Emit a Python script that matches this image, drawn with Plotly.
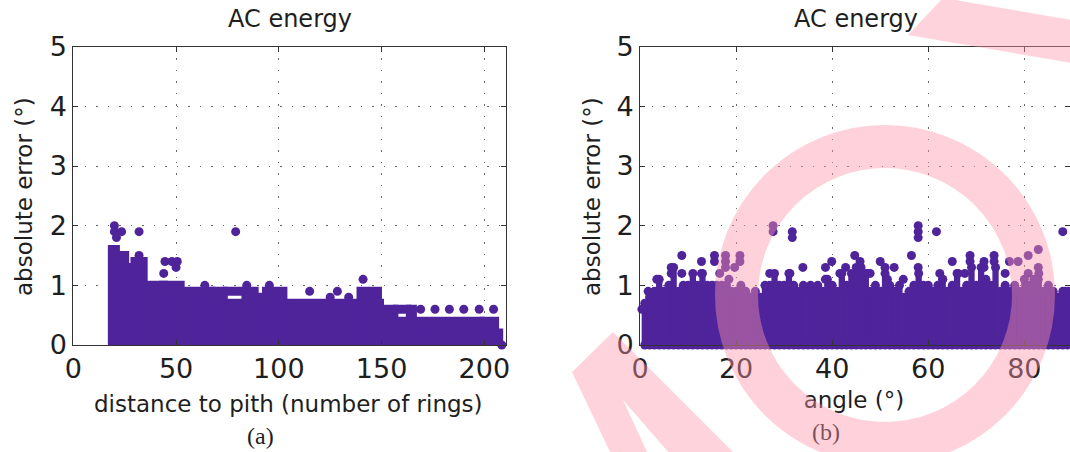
import plotly.graph_objects as go

W, H = 1070, 452
PURPLE = '#4F249B'
TXT = '#1e1e1e'
PINK = 'rgb(255,150,172)'

# ---------------- panel (a): distance to pith ----------------
# solid column blocks of the cloud: start, end (rings) and top error (deg)
dist_seg_start = [19, 20.5, 25, 30, 34, 44, 52, 55, 59, 67, 69, 73, 84, 88, 94, 102, 140, 149, 156, 164, 165, 198, 200, 205]
dist_seg_end   = [20.5, 25, 30, 34, 44, 52, 55, 59, 67, 69, 73, 84, 88, 94, 102, 149, 148, 156, 164, 165, 198, 200, 205, 207]
dist_seg_top   = [1.6, 1.5, 1.3, 1.4, 1.0, 1.0, 0.9, 0.7, 0.9, 0.7, 0.9, 0.7, 0.9, 0.8, 0.9, 0.7, 0.9, 0.6, 0.4, 0.6, 0.4, 0.2, 0.4, 0.2]
# detached horizontal rows of points
dist_row_start = [73, 156]
dist_row_end   = [84, 164]
dist_row_err   = [0.9, 0.6]
# isolated points
dist_pts_x = [20, 20, 23.5, 21, 32, 79, 32, 44, 44.6, 48, 50.6, 50, 64, 84.4, 95.4, 141, 115, 128.5, 125, 134,
              169, 176, 183, 190, 197.5, 204.5, 208.5]
dist_pts_y = [2.0, 1.9, 1.9, 1.8, 1.9, 1.9, 1.5, 1.2, 1.4, 1.4, 1.4, 1.3, 1.0, 1.0, 1.0, 1.1, 0.9, 0.9, 0.8, 0.8,
              0.6, 0.6, 0.6, 0.6, 0.6, 0.6, 0.0]

# ---------------- panel (b): angle ----------------
angle_cols = list(range(1, 90))
angle_top = [0.7, 0.8, 0.9, 1.1, 0.9, 1.0, 1.3, 0.9, 1.0, 1.0,
             1.2, 1.0, 1.2, 1.0, 1.0, 1.0, 1.0, 1.0, 0.9, 0.9,
             1.0, 0.9, 0.8, 0.9, 0.8, 1.0, 1.0, 1.2, 1.0, 1.0,
             1.2, 1.0, 0.9, 1.0, 0.9, 0.9, 1.0, 0.9, 1.1, 1.0,
             0.9, 1.2, 1.0, 1.2, 1.3, 1.3, 1.2, 0.9, 1.0, 0.9,
             1.2, 1.0, 0.9, 1.0, 0.8, 0.9, 1.0, 1.2, 1.0, 1.0,
             0.9, 1.0, 1.1, 0.9, 1.0, 1.2, 0.9, 1.0, 1.3, 1.0,
             1.3, 1.1, 1.0, 1.3, 0.9, 1.0, 0.9, 1.0, 0.9, 1.1,
             1.0, 1.1, 1.2, 0.9, 1.0, 0.9, 0.8, 0.9, 0.9]
angle_bottom = [0.0] * len(angle_cols)
angle_pts_x = [0.4, 1.7, 3.5, 6.5, 6.5, 8.7, 8.7, 12.8, 12.8, 15.5, 15.5, 16.6, 17.8, 17.8, 17.8, 18.5, 19.7, 20.8, 20.8,
               27.7, 27.7, 27, 31.2, 31.7, 31.7, 33.9, 35.5, 38.6, 38.6, 39.9, 41.6, 42.8, 44.7, 45.8, 45.8, 46.2, 47.3,
               47.9, 50, 51, 52.9, 51.5, 54.8, 56.5, 57.9, 57.9, 57.9, 57.9, 61.7, 62.4, 63, 65, 66.2, 67.6, 68.7, 68.7,
               71.6, 71.6, 73.7, 73.7, 76, 76.9, 78.7, 80.8, 80.8, 82.9, 82.9, 82.9, 88, 88, 88.5, 89.4]
angle_pts_y = [0.6, 0.9, 1.1, 1.3, 1.2, 1.5, 1.2, 1.4, 1.2, 1.5, 1.4, 1.2, 1.5, 1.4, 1.3, 1.1, 1.3, 1.5, 1.4,
               2.0, 1.9, 1.2, 1.2, 1.9, 1.8, 1.3, 1.0, 1.3, 1.1, 1.4, 1.2, 1.3, 1.5, 1.4, 1.3, 1.2, 1.2,
               1.2, 1.4, 1.3, 1.3, 1.1, 1.1, 1.5, 2.0, 1.9, 1.8, 1.3, 1.9, 1.2, 1.1, 1.4, 1.2, 1.2, 1.5, 1.4,
               1.4, 1.3, 1.5, 1.4, 1.2, 1.4, 1.4, 1.5, 1.2, 1.6, 1.3, 1.1, 1.9, 0.7, 0.9, 0.9]

dist_ticks = [0, 50, 100, 150, 200]
angle_ticks = [0, 20, 40, 60, 80]
err_ticks = [0, 1, 2, 3, 4, 5]

MS = 9  # marker diameter in px

fig = go.Figure()

# panel (a) solid blocks: bars whose outline mimics marker radius
fig.add_trace(go.Bar(
    x=[(s + e) / 2 for s, e in zip(dist_seg_start, dist_seg_end)],
    width=[e - s for s, e in zip(dist_seg_start, dist_seg_end)],
    y=dist_seg_top, marker=dict(color=PURPLE, line=dict(color=PURPLE, width=MS)),
    cliponaxis=False, xaxis='x', yaxis='y', hoverinfo='skip'))
rx, ry = [], []
for s, e, v in zip(dist_row_start, dist_row_end, dist_row_err):
    rx += [s, e, None]
    ry += [v, v, None]
fig.add_trace(go.Scatter(x=rx, y=ry, mode='lines+markers', line=dict(color=PURPLE, width=MS),
                         marker=dict(color=PURPLE, size=MS), cliponaxis=False, xaxis='x', yaxis='y'))
fig.add_trace(go.Scatter(x=dist_pts_x, y=dist_pts_y, mode='markers',
                         marker=dict(color=PURPLE, size=MS, line=dict(width=0)),
                         cliponaxis=False, xaxis='x', yaxis='y'))

# panel (b)
fig.add_trace(go.Bar(x=angle_cols, y=angle_top, width=1,
                     marker=dict(color=PURPLE, line=dict(color=PURPLE, width=1.5)),
                     cliponaxis=False, xaxis='x2', yaxis='y2', hoverinfo='skip'))
fig.add_trace(go.Scatter(x=angle_cols + angle_cols + angle_pts_x, y=angle_top + angle_bottom + angle_pts_y,
                         mode='markers', marker=dict(color=PURPLE, size=MS, line=dict(width=0)),
                         cliponaxis=False, xaxis='x2', yaxis='y2'))

# labels of panel (b) lying under the watermark: text drawn in a full-page helper subplot (pixel units)
for text, px, py, fam, size in [('angle (°)', 854, 402, 'DejaVu Sans', 23),
                                ('(b)', 826, 434, 'Liberation Serif', 24)]:
    fig.add_trace(go.Scatter(x=[px], y=[py], mode='text', text=[text], textposition='middle center',
                             textfont=dict(family=fam, size=size, color=TXT),
                             xaxis='x3', yaxis='y3', hoverinfo='skip'))

ax_common = dict(showline=True, linecolor='#333', linewidth=1, mirror='ticks', ticks='inside', ticklen=5,
                 tickcolor='#333', showgrid=True, gridcolor='#6a6a6a', gridwidth=1, griddash='1.5px,10px',
                 zeroline=False, automargin=False,
                 tickfont=dict(family='DejaVu Sans', size=27, color=TXT))

x1dom = [73.3 / W, 505.7 / W]
x2dom = [640 / W, 1.0]
ydom = [1 - 345 / H, 1 - 46.7 / H]

fig.update_layout(
    template='none',
    width=W, height=H, margin=dict(l=0, r=0, t=0, b=0, pad=0, autoexpand=False),
    paper_bgcolor='white', plot_bgcolor='rgba(0,0,0,0)', showlegend=False, barmode='overlay',
    xaxis=dict(domain=x1dom, range=[0, 210.4], tickvals=dist_ticks, anchor='y', **ax_common),
    yaxis=dict(domain=ydom, range=[0, 5], tickvals=err_ticks, anchor='x', **ax_common),
    xaxis2=dict(domain=x2dom, range=[0, 89.5], tickvals=angle_ticks, anchor='y2', **ax_common),
    yaxis2=dict(domain=ydom, range=[0, 5], tickvals=err_ticks, anchor='x2', **ax_common),
    xaxis3=dict(domain=[0, 1], range=[0, W], visible=False, anchor='y3', fixedrange=True),
    yaxis3=dict(domain=[0, 1], range=[H, 0], visible=False, anchor='x3', fixedrange=True),
)

def ann(text, px, py, size, family='DejaVu Sans', angle=0):
    fig.add_annotation(text=text, x=px / W, y=1 - py / H, xref='paper', yref='paper',
                       xanchor='center', yanchor='middle', showarrow=False, textangle=angle,
                       font=dict(family=family, size=size, color=TXT))

ann('AC energy', 289.5, 19, 24)
ann('AC energy', 856, 19, 24)
ann('distance to pith (number of rings)', 288, 404, 23)
ann('absolute error (°)', 24, 197, 23, angle=-90)
ann('absolute error (°)', 592, 197, 23, angle=-90)
ann('(a)', 260, 436, 24, family='Liberation Serif')

# pink watermark overlay
def P(px, py):
    return f'{px / W:.5f},{1 - py / H:.5f}'

band = 'M ' + ' L '.join(P(*p) for p in [(943, -2), (1072, 20), (1072, 63), (908, 35)]) + ' Z'
nshape = 'M ' + ' L '.join(P(*p) for p in [(572, 372), (613, 332), (735, 454), (670, 454), (623, 400),
                                            (648, 454), (611, 454)]) + ' Z'
for pth in (band, nshape):
    fig.add_shape(type='path', path=pth, xref='paper', yref='paper', fillcolor=PINK, opacity=0.42,
                  line=dict(width=0), layer='above')
cx, cy, r = 885, 295, 148.5
fig.add_shape(type='circle', xref='paper', yref='paper', x0=(cx - r) / W, x1=(cx + r) / W,
              y0=1 - (cy + r) / H, y1=1 - (cy - r) / H, line=dict(color=PINK, width=43),
              fillcolor='rgba(0,0,0,0)', opacity=0.42, layer='above')

fig.write_html('out.html')
